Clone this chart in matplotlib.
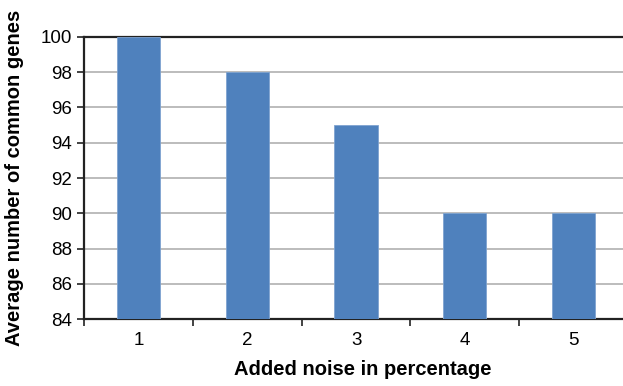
import matplotlib
matplotlib.use("Agg")
import matplotlib.pyplot as plt
from matplotlib.ticker import FixedLocator, NullFormatter

plt.rcParams['font.family'] = ['Liberation Sans', 'DejaVu Sans']

noise = [1, 2, 3, 4, 5]
common_genes = [100, 98, 95, 90, 90]
y_ticks = [84, 86, 88, 90, 92, 94, 96, 98, 100]

fig = plt.figure(figsize=(6.23, 3.86), dpi=100)
ax = fig.add_axes([0.1355, 0.1728, 0.872, 0.732])

ax.bar(noise, [v - 84 for v in common_genes], bottom=84, width=0.4,
       color="#4F81BD", edgecolor="#7FA3D0", linewidth=0.6, zorder=3)

ax.set_xlim(0.5, 5.5)
ax.set_ylim(84, 100)
ax.set_yticks(y_ticks)
ax.yaxis.grid(True, color="#B0B0B0", linewidth=1.2, zorder=0)

ax.set_xticks(noise)
ax.tick_params(axis="x", which="major", length=0, labelsize=13.5, pad=9)
ax.xaxis.set_minor_locator(FixedLocator([0.5, 1.5, 2.5, 3.5, 4.5, 5.5]))
ax.xaxis.set_minor_formatter(NullFormatter())
ax.tick_params(axis="x", which="minor", length=5, width=1.2, color="#222222")
ax.tick_params(axis="y", length=5, width=1.2, labelsize=13.5, color="#222222", pad=4)

ax.spines["right"].set_visible(False)
for s in ["left", "bottom", "top"]:
    ax.spines[s].set_linewidth(1.6)
    ax.spines[s].set_color("#222222")

ax.set_xlabel("Added noise in percentage", fontsize=14.5, fontweight="bold", labelpad=8)
ax.xaxis.label.set_x(0.512)
ax.set_ylabel("Average number of common genes", fontsize=14.5, fontweight="bold", labelpad=12)

fig.savefig("out.png", dpi=100)
